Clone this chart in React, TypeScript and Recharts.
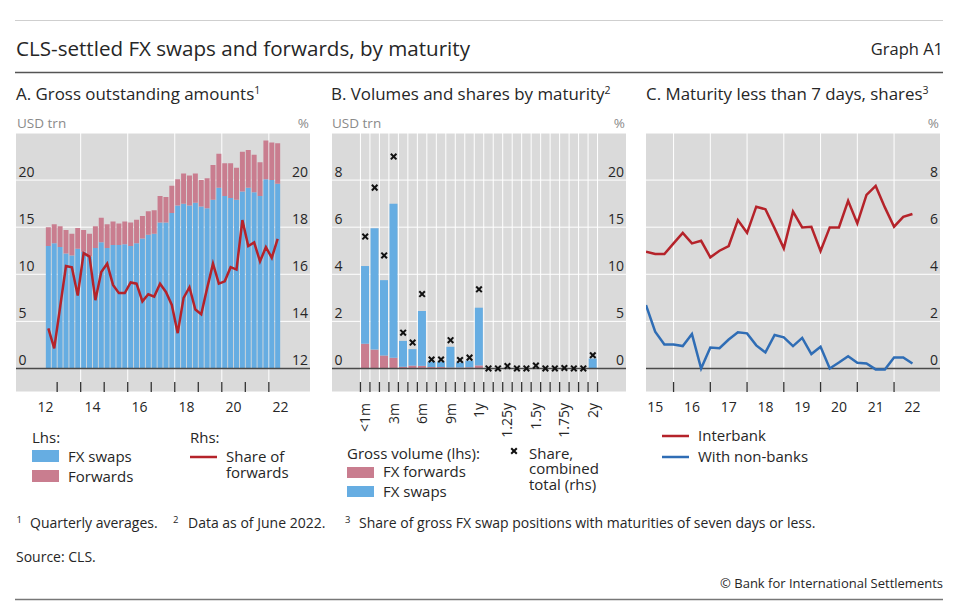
import React from 'react';
import {
  ComposedChart,
  Bar,
  Line,
  Scatter,
  XAxis,
  YAxis,
  CartesianGrid,
  ReferenceLine
} from 'recharts';

const FONT = '"Open Sans", sans-serif';
const BG = '#dadada';
const SWAP_BLUE = '#66ade2';
const FWD_PINK = '#c97d8f';
const RED = '#b5232a';
const LINE_BLUE = '#2f6db5';
const INK = '#262626';
const ZERO = '#4a4a4a';

// Panel A: quarterly averages, 2012 Q3 to 2022 Q2 (USD trn, share in %)
const A_FIRST_YEAR = 2012;
const A_FIRST_Q = 3;
const A_SWAPS = [
  13.0, 13.3, 12.9, 12.2, 12.0, 12.7, 12.4, 11.9, 12.8, 13.4,
  12.8, 13.1, 13.1, 13.2, 13.0, 13.3, 13.8, 14.2, 14.3, 15.5,
  15.5, 16.5, 17.3, 17.5, 17.3, 17.6, 17.2, 17.0, 17.9, 19.2,
  18.3, 18.1, 17.9, 18.8, 19.2, 18.7, 18.3, 20.1, 20.0, 19.6
];
const A_FORWARDS = [
  2.0, 2.0, 2.2, 2.5, 2.3, 2.2, 2.3, 2.4, 2.3, 2.6,
  2.5, 2.5, 2.3, 2.4, 2.5, 2.5, 2.4, 2.5, 2.5, 2.8,
  2.7, 2.9, 2.8, 3.2, 3.2, 3.1, 2.8, 3.2, 3.7, 3.6,
  3.5, 3.7, 3.4, 4.2, 4.0, 4.0, 3.6, 4.1, 4.0, 4.3
];
const A_SHARE = [
  13.7, 12.85, 14.6, 16.35, 16.3, 15.1, 16.9, 16.75, 14.9, 16.1,
  16.45, 15.55, 15.2, 15.2, 15.65, 15.6, 14.85, 15.15, 15.05, 15.6,
  15.25, 14.7, 13.5, 15.0, 15.45, 14.5, 14.3, 15.4, 16.45, 15.6,
  15.7, 16.3, 16.2, 18.3, 17.2, 17.35, 16.55, 17.15, 16.7, 17.5
];
const A_YEAR_MARKS = [2013, 2014, 2015, 2016, 2017, 2018, 2019, 2020, 2021, 2022];
const A_GRID_YEARS = [2014, 2016, 2018, 2020, 2022];
const A_LABEL_YEARS = [2012, 2014, 2016, 2018, 2020, 2022];

// Panel B: by maturity, data as of June 2022
const MATURITIES = [
  '<1m', '1m', '2m', '3m', '4m', '5m', '6m', '7m', '8m', '9m', '10m', '11m', '1y',
  '13m', '14m', '1.25y', '16m', '17m', '1.5y', '19m', '20m', '1.75y', '22m', '23m', '2y'
];
const B_SHOWN = ['<1m', '3m', '6m', '9m', '1y', '1.25y', '1.5y', '1.75y', '2y'];
const B_FORWARDS = [
  1.05, 0.8, 0.55, 0.45, 0.07, 0.12, 0.11, 0.06, 0.06, 0.04, 0.04, 0.05, 0.13,
  0, 0, 0, 0, 0, 0, 0, 0, 0, 0, 0, 0
];
const B_SWAPS = [
  3.3, 5.15, 3.2, 6.55, 1.1, 0.7, 2.33, 0.22, 0.22, 0.88, 0.21, 0.28, 2.45,
  0, 0, 0, 0, 0, 0, 0, 0, 0, 0, 0, 0.42
];
const B_SHARE = [
  14.0, 19.2, 12.0, 22.5, 3.8, 2.75, 7.9, 0.95, 0.95, 3.0, 0.9, 1.15, 8.4,
  0, 0, 0.25, 0, 0, 0.3, 0, 0, 0.05, 0, 0, 1.4
];

// Panel C: quarter-end, 2015 Q1 to 2022 Q2 (%)
const C_FIRST_YEAR = 2015;
const C_FIRST_Q = 1;
const C_INTERBANK = [
  4.96, 4.86, 4.86, 5.31, 5.76, 5.31, 5.42, 4.72, 5.0, 5.2,
  6.3, 5.76, 6.87, 6.76, 5.95, 5.1, 6.66, 5.99, 6.02, 4.99,
  5.99, 5.99, 7.12, 6.16, 7.37, 7.75, 6.84, 6.02, 6.44, 6.56
];
const C_NONBANK = [
  2.69, 1.56, 1.02, 1.02, 0.95, 1.46, 0.0, 0.89, 0.86, 1.23,
  1.54, 1.49, 0.98, 0.68, 1.42, 1.32, 0.95, 1.3, 0.61, 0.92,
  0.0, 0.25, 0.52, 0.24, 0.21, -0.04, -0.04, 0.47, 0.47, 0.21
];
const C_YEAR_MARKS = [2016, 2017, 2018, 2019, 2020, 2021, 2022];
const C_LABEL_YEARS = [2015, 2016, 2017, 2018, 2019, 2020, 2021, 2022];

// quarter position on a year axis: pos 0.5 = middle of quarter, 1 = quarter end
const quarterX = (year: number, q: number, i: number, pos: number) => {
  const k = q - 1 + i;
  return year + Math.floor(k / 4) + ((k % 4) + pos) / 4;
};

const A_DATA = A_SWAPS.map((s, i) => ({
  x: quarterX(A_FIRST_YEAR, A_FIRST_Q, i, 0.5),
  swaps: s,
  forwards: A_FORWARDS[i],
  share: A_SHARE[i]
}));

const B_DATA = MATURITIES.map((m, i) => ({
  x: i,
  name: m,
  forwards: B_FORWARDS[i],
  swaps: B_SWAPS[i],
  share: B_SHARE[i]
}));
const B_BOUNDS = [...MATURITIES.map((_, i) => i - 0.5), MATURITIES.length - 0.5];
const B_LABEL_POS = B_SHOWN.map((s) => MATURITIES.indexOf(s));

const C_DATA = C_INTERBANK.map((v, i) => ({
  x: quarterX(C_FIRST_YEAR, C_FIRST_Q, i, 1),
  interbank: v,
  nonbank: C_NONBANK[i]
}));

const PLOT_W = 294;
const PLOT_H = 259;
const AXIS_H = 50;
const Y_AXIS_W = 1;
const TICK_FS = 14;

const LeftTick = (p: any) => (
  <text x={p.x + 2.5} y={p.y - 3} textAnchor="start" fontSize={TICK_FS} fill={INK} fontFamily={FONT}>
    {p.payload.value}
  </text>
);

const RightTick = (p: any) => (
  <text x={p.x - 2} y={p.y - 3} textAnchor="end" fontSize={TICK_FS} fill={INK} fontFamily={FONT}>
    {p.payload.value}
  </text>
);

// x ticks: short marks inside the plot bottom at boundaries, text labels below
const makeXTick = (marks: number[], label: (v: number) => string, rotated: boolean) => (p: any) => {
  const v = p.payload.value;
  if (marks.includes(v)) {
    return <line x1={p.x} x2={p.x} y1={p.y - 10} y2={p.y} stroke="#333" strokeWidth={1.3} />;
  }
  if (rotated) {
    return (
      <text
        transform={`translate(${p.x + 5},${p.y + 11}) rotate(-90)`}
        textAnchor="end"
        fontSize={TICK_FS}
        fill={INK}
        fontFamily={FONT}
      >
        {label(v)}
      </text>
    );
  }
  return (
    <text x={p.x} y={p.y + 20} textAnchor="middle" fontSize={TICK_FS} fill={INK} fontFamily={FONT}>
      {label(v)}
    </text>
  );
};

const yearLabel = (v: number) => String(Math.floor(v) % 100);

const Cross = (p: any) => {
  const { cx, cy } = p;
  if (cx == null || cy == null) return <g />;
  const r = 2.8;
  return (
    <g stroke="#111" strokeWidth={2}>
      <line x1={cx - r} y1={cy - r} x2={cx + r} y2={cy + r} />
      <line x1={cx - r} y1={cy + r} x2={cx + r} y2={cy - r} />
    </g>
  );
};

const axisCommon = {
  interval: 0 as const,
  tickSize: 0,
  tickMargin: 0,
  axisLine: false,
  tickLine: false
};

const PanelA = () => (
  <ComposedChart
    width={PLOT_W + 2 * Y_AXIS_W}
    height={PLOT_H + AXIS_H}
    data={A_DATA}
    margin={{ top: 0, right: 0, bottom: 0, left: 0 }}
    barCategoryGap={0.45}
  >
    <CartesianGrid yAxisId="left" fill={BG} fillOpacity={1} stroke="#fff" verticalValues={A_GRID_YEARS} />
    <XAxis
      dataKey="x"
      type="number"
      domain={[2011.25, 2023.75]}
      allowDataOverflow
      ticks={[...A_YEAR_MARKS, ...A_LABEL_YEARS.map((y) => y + 0.5)]}
      height={AXIS_H}
      tick={makeXTick(A_YEAR_MARKS, yearLabel, false)}
      {...axisCommon}
    />
    <YAxis yAxisId="left" type="number" domain={[-2.5, 25]} ticks={[0, 5, 10, 15, 20]} width={Y_AXIS_W} tick={LeftTick} {...axisCommon} />
    <YAxis yAxisId="right" orientation="right" type="number" domain={[11, 22]} ticks={[12, 14, 16, 18, 20]} width={Y_AXIS_W} tick={RightTick} {...axisCommon} />
    <Bar yAxisId="left" dataKey="swaps" stackId="a" fill={SWAP_BLUE} isAnimationActive={false} />
    <Bar yAxisId="left" dataKey="forwards" stackId="a" fill={FWD_PINK} isAnimationActive={false} />
    <ReferenceLine yAxisId="left" y={0} stroke={ZERO} strokeWidth={1.5} />
    <Line yAxisId="right" dataKey="share" type="linear" stroke={RED} strokeWidth={2.5} dot={false} isAnimationActive={false} />
  </ComposedChart>
);

const PanelB = () => (
  <ComposedChart
    width={PLOT_W + 2 * Y_AXIS_W}
    height={PLOT_H + AXIS_H}
    data={B_DATA}
    margin={{ top: 0, right: 0, bottom: 0, left: 0 }}
    barCategoryGap={0.6}
  >
    <CartesianGrid yAxisId="left" fill={BG} fillOpacity={1} stroke="#fff" verticalValues={B_BOUNDS} />
    <XAxis
      dataKey="x"
      type="number"
      domain={[-3.5, 27.5]}
      allowDataOverflow
      ticks={[...B_BOUNDS, ...B_LABEL_POS]}
      height={AXIS_H}
      tick={makeXTick(B_BOUNDS, (v) => MATURITIES[v], true)}
      {...axisCommon}
    />
    <YAxis yAxisId="left" type="number" domain={[-1, 10]} ticks={[0, 2, 4, 6, 8]} width={Y_AXIS_W} tick={LeftTick} {...axisCommon} />
    <YAxis yAxisId="right" orientation="right" type="number" domain={[-2.5, 25]} ticks={[0, 5, 10, 15, 20]} width={Y_AXIS_W} tick={RightTick} {...axisCommon} />
    <Bar yAxisId="left" dataKey="forwards" stackId="b" fill={FWD_PINK} isAnimationActive={false} />
    <Bar yAxisId="left" dataKey="swaps" stackId="b" fill={SWAP_BLUE} isAnimationActive={false} />
    <ReferenceLine yAxisId="left" y={0} stroke={ZERO} strokeWidth={1.5} />
    <Scatter yAxisId="right" dataKey="share" shape={Cross} isAnimationActive={false} />
  </ComposedChart>
);

const PanelC = () => (
  <ComposedChart
    width={PLOT_W + Y_AXIS_W}
    height={PLOT_H + AXIS_H}
    data={C_DATA}
    margin={{ top: 0, right: 0, bottom: 0, left: 0 }}
  >
    <CartesianGrid yAxisId="right" fill={BG} fillOpacity={1} stroke="#fff" verticalValues={C_YEAR_MARKS} />
    <XAxis
      dataKey="x"
      type="number"
      domain={[2015.25, 2023.25]}
      allowDataOverflow
      ticks={[...C_YEAR_MARKS, ...C_LABEL_YEARS.map((y) => y + 0.5)]}
      height={AXIS_H}
      tick={makeXTick(C_YEAR_MARKS, yearLabel, false)}
      {...axisCommon}
    />
    <YAxis yAxisId="right" orientation="right" type="number" domain={[-1, 10]} ticks={[0, 2, 4, 6, 8]} width={Y_AXIS_W} tick={RightTick} {...axisCommon} />
    <ReferenceLine yAxisId="right" y={0} stroke={ZERO} strokeWidth={1.5} />
    <Line yAxisId="right" dataKey="interbank" type="linear" stroke={RED} strokeWidth={2.5} dot={false} isAnimationActive={false} />
    <Line yAxisId="right" dataKey="nonbank" type="linear" stroke={LINE_BLUE} strokeWidth={2.5} dot={false} isAnimationActive={false} />
  </ComposedChart>
);

const T = (props: any) => <text fontFamily={FONT} fill={INK} {...props} />;
const Sup = ({ children }: any) => (
  <tspan dy={-6} fontSize={10.5}>{children}</tspan>
);

const LEG_FS = 15;

export default function App() {
  return (
    <div style={{ position: 'absolute', left: 0, top: 0, width: 960, height: 612, background: '#fff' }}>
      <svg width={960} height={612} style={{ position: 'absolute', left: 0, top: 0 }}>
        <line x1={15} x2={943} y1={20.5} y2={20.5} stroke="#cfcfcf" strokeWidth={1} />
        <T x={16} y={56} fontSize={20.6}>CLS-settled FX swaps and forwards, by maturity</T>
        <T x={943} y={55} fontSize={16.5} textAnchor="end">Graph A1</T>
        <line x1={15} x2={943} y1={72.5} y2={72.5} stroke="#555" strokeWidth={1.4} />

        <T x={16} y={100} fontSize={16.9}>A. Gross outstanding amounts<Sup>1</Sup></T>
        <T x={331} y={100} fontSize={16.9}>B. Volumes and shares by maturity<Sup>2</Sup></T>
        <T x={646} y={100} fontSize={16.9}>C. Maturity less than 7 days, shares<Sup>3</Sup></T>

        <T x={17} y={128} fontSize={13.5} fill="#8a8a8a">USD trn</T>
        <T x={309} y={128} fontSize={13.5} fill="#8a8a8a" textAnchor="end">%</T>
        <T x={332} y={128} fontSize={13.5} fill="#8a8a8a">USD trn</T>
        <T x={625} y={128} fontSize={13.5} fill="#8a8a8a" textAnchor="end">%</T>
        <T x={939} y={128} fontSize={13.5} fill="#8a8a8a" textAnchor="end">%</T>

        {/* legend A */}
        <T x={32} y={443} fontSize={LEG_FS}>Lhs:</T>
        <rect x={32} y={450} width={27} height={12} fill={SWAP_BLUE} />
        <T x={68} y={462} fontSize={LEG_FS}>FX swaps</T>
        <rect x={32} y={470} width={27} height={12} fill={FWD_PINK} />
        <T x={68} y={481.5} fontSize={LEG_FS}>Forwards</T>
        <T x={190} y={443} fontSize={LEG_FS}>Rhs:</T>
        <line x1={190} x2={217} y1={457} y2={457} stroke={RED} strokeWidth={2.5} />
        <T x={226} y={461.5} fontSize={LEG_FS}>Share of</T>
        <T x={226} y={477.5} fontSize={LEG_FS}>forwards</T>

        {/* legend B */}
        <T x={347} y={459} fontSize={LEG_FS}>Gross volume (lhs):</T>
        <rect x={347} y={467} width={27} height={11} fill={FWD_PINK} />
        <T x={383} y={477} fontSize={LEG_FS}>FX forwards</T>
        <rect x={347} y={486} width={27} height={11} fill={SWAP_BLUE} />
        <T x={383} y={497} fontSize={LEG_FS}>FX swaps</T>
        <Cross cx={514} cy={451} />
        <T x={529} y={459} fontSize={LEG_FS}>Share,</T>
        <T x={529} y={474} fontSize={LEG_FS}>combined</T>
        <T x={529} y={490} fontSize={LEG_FS}>total (rhs)</T>

        {/* legend C */}
        <line x1={662} x2={689} y1={436} y2={436} stroke={RED} strokeWidth={2.5} />
        <T x={698} y={441} fontSize={LEG_FS}>Interbank</T>
        <line x1={662} x2={689} y1={457} y2={457} stroke={LINE_BLUE} strokeWidth={2.5} />
        <T x={698} y={462} fontSize={LEG_FS}>With non-banks</T>

        {/* footnotes */}
        <T x={16.5} y={523} fontSize={9.5}>1</T>
        <T x={30} y={528} fontSize={14}>Quarterly averages.</T>
        <T x={173} y={523} fontSize={9.5}>2</T>
        <T x={188} y={528} fontSize={14}>Data as of June 2022.</T>
        <T x={345} y={523} fontSize={9.5}>3</T>
        <T x={359} y={528} fontSize={14}>Share of gross FX swap positions with maturities of seven days or less.</T>
        <T x={16} y={562} fontSize={14}>Source: CLS.</T>
        <T x={943} y={588} fontSize={13} textAnchor="end">© Bank for International Settlements</T>
        <line x1={15} x2={943} y1={599.5} y2={599.5} stroke="#777" strokeWidth={1.3} />
      </svg>

      <div style={{ position: 'absolute', left: 16 - Y_AXIS_W, top: 133 }}>
        <PanelA />
      </div>
      <div style={{ position: 'absolute', left: 332 - Y_AXIS_W, top: 133 }}>
        <PanelB />
      </div>
      <div style={{ position: 'absolute', left: 646, top: 133 }}>
        <PanelC />
      </div>
    </div>
  );
}
